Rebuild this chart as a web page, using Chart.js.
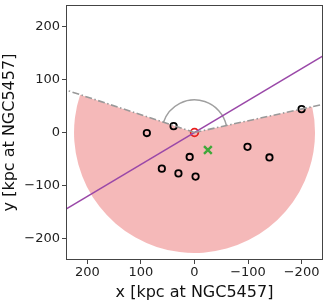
<!DOCTYPE html>
<html>
<head>
<meta charset="utf-8">
<script src="https://cdn.jsdelivr.net/npm/chart.js@4/dist/chart.umd.min.js"></script>
<style>
  html, body { margin: 0; padding: 0; background: #fff; }
  #box { width: 327px; height: 302px; }
</style>
</head>
<body>
<div id="box"><canvas id="mapChart" width="327" height="302"></canvas></div>
<script>
// satellite positions (kpc)
const satX = [89, 39, 9, 61, 30, -2, -99, -140, -200];
const satY = [-1, 12, -46, -68, -77, -83, -27, -47, 44];
// host centre and offset marker
const hostX = [0];
const hostY = [0];
const offX = [-25];
const offY = [-33];
// fitted plane (purple)
const planeX = [240, -240];
const planeY = [-144, 144];
// wedge edges
const edgeLeftX = [0, 240];
const edgeLeftY = [0, 80];
const edgeRightX = [0, -240];
const edgeRightY = [0, 53];
const wedgeRadius = 225;
const arcRadius = 61;
const tickVals = [-200, -100, 0, 100, 200];

const toPts = (xs, ys) => xs.map((x, i) => ({x: x, y: ys[i]}));
const minus = v => String(v).replace('-', '\u2212');

const wedgePlugin = {
    id: 'wedge',
    beforeDatasetsDraw(chart) {
        const c = chart.ctx, xs = chart.scales.x, ys = chart.scales.y, a = chart.chartArea;
        const cx = xs.getPixelForValue(0), cy = ys.getPixelForValue(0);
        const ang = (x, y) => Math.atan2(ys.getPixelForValue(y) - cy, xs.getPixelForValue(x) - cx);
        const aL = ang(edgeLeftX[1], edgeLeftY[1]);
        const aR = ang(edgeRightX[1], edgeRightY[1]);
        const r = Math.abs(xs.getPixelForValue(wedgeRadius) - cx);
        const r2 = Math.abs(xs.getPixelForValue(arcRadius) - cx);
        c.save();
        c.beginPath();
        c.rect(a.left, a.top, a.right - a.left, a.bottom - a.top);
        c.clip();
        c.beginPath();
        c.moveTo(cx, cy);
        c.arc(cx, cy, r, aL, aR, true);
        c.closePath();
        c.fillStyle = 'rgba(226, 60, 60, 0.36)';
        c.fill();
        c.beginPath();
        c.arc(cx, cy, r2, aL, aR, false);
        c.strokeStyle = '#a0a0a0';
        c.lineWidth = 1.5;
        c.stroke();
        c.restore();
    },
    afterDraw(chart) {
        const c = chart.ctx, a = chart.chartArea;
        c.save();
        c.strokeStyle = '#444';
        c.lineWidth = 1;
        c.strokeRect(a.left + 0.5, a.top + 0.5, a.right - a.left - 1, a.bottom - a.top - 1);
        c.restore();
    }
};

const axisFont = { family: 'DejaVu Sans', size: 13 };
const titleFont = { family: 'DejaVu Sans', size: 16 };

new Chart(document.getElementById('mapChart'), {
    type: 'scatter',
    data: {
        datasets: [
            {
                type: 'line', data: toPts(edgeLeftX, edgeLeftY),
                borderColor: '#999', borderWidth: 1.6, borderDash: [7, 2.5, 1.5, 2.5],
                pointRadius: 0, fill: false
            },
            {
                type: 'line', data: toPts(edgeRightX, edgeRightY),
                borderColor: '#999', borderWidth: 1.6, borderDash: [7, 2.5, 1.5, 2.5],
                pointRadius: 0, fill: false
            },
            {
                type: 'line', data: toPts(planeX, planeY),
                borderColor: '#9a48a8', borderWidth: 1.5,
                pointRadius: 0, fill: false
            },
            {
                data: toPts(satX, satY),
                pointStyle: 'circle', pointRadius: 3.2,
                borderColor: '#000', borderWidth: 1.8, backgroundColor: 'rgba(0,0,0,0)'
            },
            {
                data: toPts(hostX, hostY),
                pointStyle: 'circle', pointRadius: 3.8,
                borderColor: '#e8201e', borderWidth: 1.8, backgroundColor: 'rgba(0,0,0,0)'
            },
            {
                data: toPts(offX, offY),
                pointStyle: 'crossRot', pointRadius: 5.5,
                borderColor: '#3fa83a', borderWidth: 2.4
            }
        ]
    },
    options: {
        responsive: false,
        animation: false,
        layout: { autoPadding: false, padding: { left: 0, right: 4, top: 5, bottom: 0 } },
        plugins: {
            legend: { display: false },
            tooltip: { enabled: false }
        },
        scales: {
            x: {
                type: 'linear',
                reverse: true,
                min: -240,
                max: 240,
                afterBuildTicks: s => { s.ticks = tickVals.map(v => ({value: v})); },
                afterFit: s => { s.height = 42; s.paddingLeft = 0; s.paddingRight = 0; },
                grid: { drawOnChartArea: false, color: '#444', tickLength: 4 },
                border: { display: false },
                ticks: { font: axisFont, color: '#222', padding: 1, callback: v => minus(v), maxRotation: 0 },
                title: { display: true, text: 'x [kpc at NGC5457]', font: titleFont, color: '#111', padding: 0 }
            },
            y: {
                type: 'linear',
                min: -240,
                max: 240,
                afterBuildTicks: s => { s.ticks = tickVals.map(v => ({value: v})); },
                afterFit: s => { s.width = 66; s.paddingTop = 0; s.paddingBottom = 0; },
                grid: { drawOnChartArea: false, color: '#444', tickLength: 4 },
                border: { display: false },
                ticks: { font: axisFont, color: '#222', padding: 2, callback: v => minus(v) },
                title: { display: true, text: 'y [kpc at NGC5457]', font: titleFont, color: '#111', padding: 0 }
            }
        }
    },
    plugins: [wedgePlugin]
});
</script>
</body>
</html>
